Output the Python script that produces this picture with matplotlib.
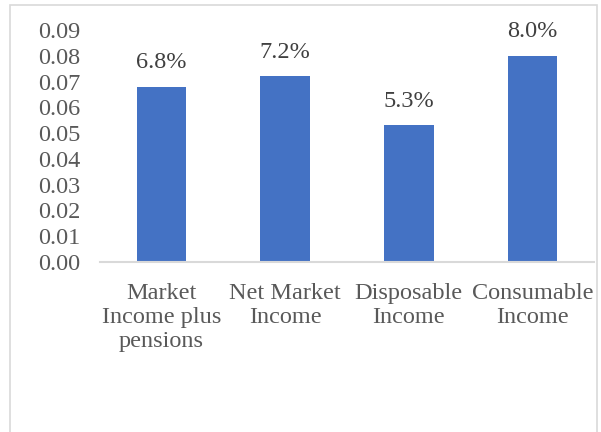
import matplotlib.pyplot as plt
from matplotlib.patches import Rectangle

categories = ["Market\nIncome plus\npensions", "Net Market\nIncome", "Disposable\nIncome", "Consumable\nIncome"]
values = [0.068, 0.072, 0.053, 0.080]
labels = ["6.8%", "7.2%", "5.3%", "8.0%"]
yticks = [0.00, 0.01, 0.02, 0.03, 0.04, 0.05, 0.06, 0.07, 0.08, 0.09]

plt.rcParams['font.family'] = ['Liberation Serif', 'DejaVu Serif']

fig = plt.figure(figsize=(6.01, 4.32), dpi=100)
ax = fig.add_axes([0.1656, 0.3935, 0.8234, 0.5371])

x = range(len(categories))
ax.bar(x, values, width=0.4, color="#4472C4")
for i, v in enumerate(values):
    ax.annotate(labels[i], (i, v), xytext=(0, 17.5), textcoords="offset points",
                ha="center", va="center", fontsize=17.5, color="#404040")

ax.set_xlim(-0.5, len(categories) - 0.5)
ax.set_ylim(0, 0.09)
ax.set_yticks(yticks)
ax.set_yticklabels([f"{t:.2f}" for t in yticks])
ax.set_xticks(list(x))
ax.set_xticklabels(categories, linespacing=1.18)
ax.tick_params(axis="y", length=0, pad=14, labelsize=17.5, labelcolor="#595959")
ax.tick_params(axis="x", length=0, pad=15, labelsize=17.5, labelcolor="#595959")

for s in ["top", "right", "left"]:
    ax.spines[s].set_visible(False)
ax.spines["bottom"].set_color("#D9D9D9")
ax.spines["bottom"].set_linewidth(1.5)

# chart border
fig.patches.append(Rectangle((10 / 601, -0.1), 587 / 601, 1.1 - 5 / 432,
                             transform=fig.transFigure, fill=False,
                             edgecolor="#D9D9D9", linewidth=1.2))

fig.savefig("out.png", dpi=100)
